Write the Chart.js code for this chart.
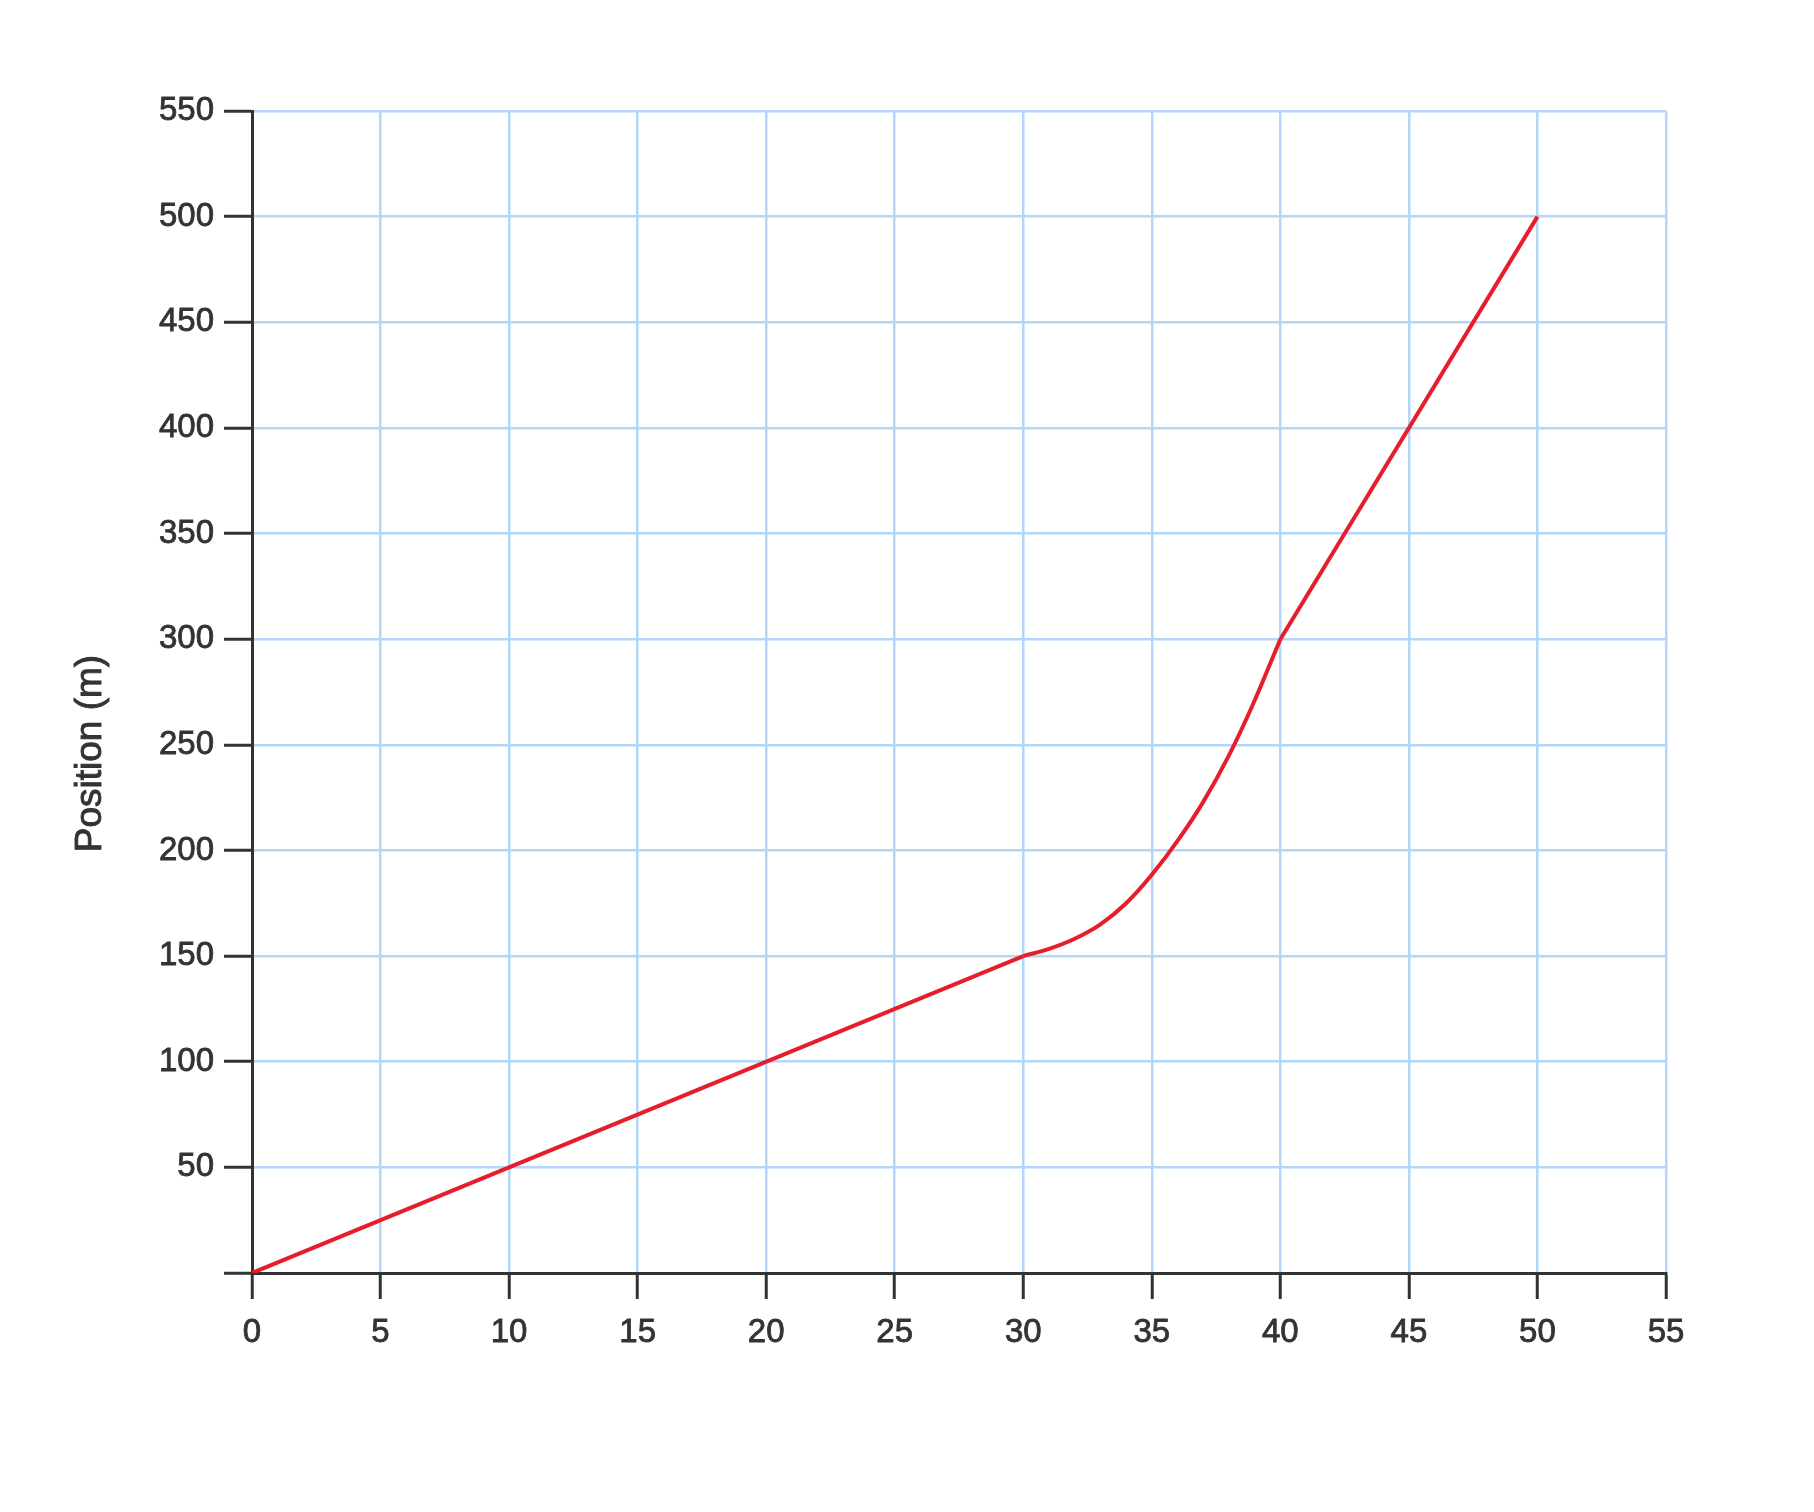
<!DOCTYPE html>
<html>
<head>
<meta charset="utf-8">
<title>Position vs time</title>
<script src="https://cdn.jsdelivr.net/npm/chart.js@4.4.1/dist/chart.umd.min.js"></script>
<style>
  html, body { margin: 0; padding: 0; background: #fff; }
  #wrap { width: 1814px; height: 1512px; }
</style>
</head>
<body>
<div id="wrap"><canvas id="chart" width="1814" height="1512"></canvas></div>
<script>
// time (s) and position (m)
const timeSteady = [0, 30];
const posSteady = [0, 150];

const timeSpeedUp = [30, 31, 32, 33, 34, 35, 36, 37, 38, 39, 40];
const posSpeedUp = [150, 153.4, 158.2, 165, 175, 188.5, 204.5, 223, 245, 271, 300];

const timeFast = [40, 50];
const posFast = [300, 500];

const xTickValues = [0, 5, 10, 15, 20, 25, 30, 35, 40, 45, 50, 55];
const yTickValues = [0, 50, 100, 150, 200, 250, 300, 350, 400, 450, 500, 550];
const yTitle = "Position (m)";

const ink = "#333333";
const gridBlue = "#b3d6fb";
const lineRed = "#e61e2b";
const font = "'Liberation Sans', Arial, sans-serif";

const toPoints = (xs, ys) => xs.map((x, i) => ({ x: x, y: ys[i] }));

const lineSet = (pts, curved) => ({
  data: pts,
  borderColor: lineRed,
  borderWidth: 4,
  pointRadius: 0,
  fill: false,
  cubicInterpolationMode: curved ? "monotone" : "default",
  tension: 0,
});

// y title sits a bit below the middle of the axis, so draw it by hand
const yTitlePlugin = {
  id: "yTitle",
  afterDraw(chart) {
    const { ctx, chartArea } = chart;
    ctx.save();
    ctx.translate(91, chartArea.top + (chartArea.bottom - chartArea.top) * 0.553);
    ctx.rotate(-Math.PI / 2);
    ctx.font = "37px " + font;
    ctx.fillStyle = ink;
    ctx.strokeStyle = ink;
    ctx.lineWidth = 0.9;
    ctx.textAlign = "center";
    ctx.textBaseline = "middle";
    ctx.fillText(yTitle, 0, 0);
    ctx.strokeText(yTitle, 0, 0);
    ctx.restore();
  },
};

const tickStyle = {
  color: ink,
  font: { family: font, size: 33 },
  textStrokeColor: ink,
  textStrokeWidth: 0.8,
};

new Chart(document.getElementById("chart").getContext("2d"), {
  type: "line",
  data: {
    datasets: [
      lineSet(toPoints(timeSteady, posSteady), false),
      lineSet(toPoints(timeSpeedUp, posSpeedUp), true),
      lineSet(toPoints(timeFast, posFast), false),
    ],
  },
  options: {
    responsive: false,
    animation: false,
    layout: { padding: { top: 111, right: 148, left: 0, bottom: 0 } },
    plugins: { legend: { display: false }, tooltip: { enabled: false } },
    scales: {
      x: {
        type: "linear",
        min: xTickValues[0],
        max: xTickValues[xTickValues.length - 1],
        afterBuildTicks: (s) => { s.ticks = xTickValues.map((v) => ({ value: v })); },
        afterFit: (s) => { s.height = 1512 - 1273; },
        grid: { color: gridBlue, lineWidth: 2.5, tickColor: ink, tickWidth: 3, tickLength: 26 },
        border: { color: ink, width: 3 },
        ticks: { ...tickStyle, padding: 14 },
      },
      y: {
        type: "linear",
        min: yTickValues[0],
        max: yTickValues[yTickValues.length - 1],
        afterBuildTicks: (s) => { s.ticks = yTickValues.map((v) => ({ value: v })); },
        afterFit: (s) => { s.width = 252; },
        grid: { color: gridBlue, lineWidth: 2.5, tickColor: ink, tickWidth: 3, tickLength: 28 },
        border: { color: ink, width: 3 },
        ticks: {
          ...tickStyle,
          padding: 10,
          callback: (v) => (v === 0 ? "" : v),
        },
      },
    },
  },
  plugins: [yTitlePlugin],
});
</script>
</body>
</html>
